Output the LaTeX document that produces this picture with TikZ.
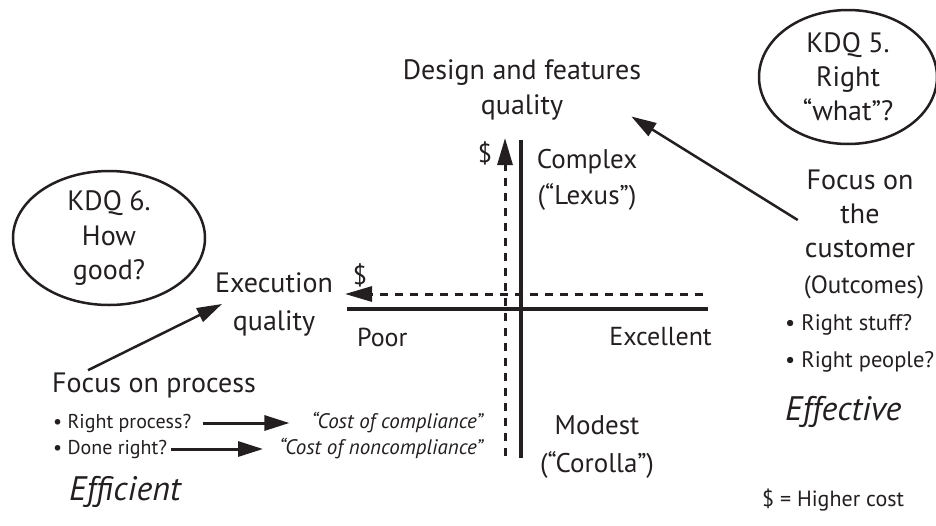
\documentclass[tikz,border=0pt]{standalone}
\usepackage{fontspec}
\setmainfont{PT Sans}
\usetikzlibrary{arrows.meta,positioning}
\definecolor{ink}{RGB}{35,31,32}

\begin{document}
\begin{tikzpicture}[x=1pt,y=-1pt,
  every node/.style={text=ink,inner sep=2pt},
  big/.style={font=\fontsize{28}{35}\selectfont,align=center},
  mid/.style={font=\fontsize{26}{37}\selectfont,align=center},
  bul/.style={font=\fontsize{20}{22}\selectfont},
  rbul/.style={font=\fontsize{22.5}{24}\selectfont},
  quote/.style={font=\fontsize{21}{24}\selectfont\itshape},
  verdict/.style={font=\fontsize{34}{38}\selectfont\itshape},
  axis/.style={draw=ink,line width=4.5pt},
  cost/.style={draw=ink,line width=3pt,dash pattern=on 8pt off 7pt,-{Triangle[length=27pt,width=15pt]}},
  conn/.style={draw=ink,line width=2.5pt,-{Triangle[length=25pt,width=15pt]}},
  bubble/.style={draw=ink,line width=2.5pt}]
\useasboundingbox (0,0) rectangle (936,525);

% the two quality axes
\coordinate (xl) at (347,309);
\coordinate (xr) at (708,309);
\coordinate (yt) at (521,140);
\coordinate (yb) at (521,458);
\coordinate (hs) at (703,294);
\coordinate (he) at (345,294);
\coordinate (vs) at (505,456);
\coordinate (ve) at (505,138);
\draw[cost] (hs) -- (he);
\draw[cost] (vs) -- (ve);
\draw[axis] (xl) -- (xr);
\draw[axis] (yt) -- (yb);

\node[big] (design) at (522,90) {Design and features\\quality};
\node[big,font=\fontsize{28}{38}\selectfont] (exec) at (274,304) {Execution\\quality};
\node[mid,font=\fontsize{27}{36}\selectfont] (complex) at (587,180) {Complex\\(“Lexus”)};
\node[mid,font=\fontsize{27}{38}\selectfont] (modest) at (597,447) {Modest\\(“Corolla”)};
\node[mid,anchor=west] (poor) at (355,337) {Poor};
\node[mid,anchor=east] (excel) at (714,337) {Excellent};
\node[mid] (dtop) at (485,153) {\$};
\node[mid] (dleft) at (360,275) {\$};

% key decision questions
\node[big,font=\fontsize{28}{34.5}\selectfont] (kdq6) at (109,238) {KDQ 6.\\How\\good?};
\draw[bubble] (kdq6) ellipse [x radius=96pt,y radius=67pt];
\node[big,font=\fontsize{28}{34}\selectfont] (kdq5) at (848,77) {KDQ 5.\\Right\\“what”?};
\draw[bubble] (kdq5) ellipse [x radius=89pt,y radius=67pt];

% process side
\node[big,anchor=west] (proc) at (50,385) {Focus on process};
\node[bul,anchor=west] (rproc) at (51,423) {• Right process?};
\node[bul,anchor=west] (done) at (51,449) {• Done right?};
\node[quote,anchor=east] (compl) at (485,423) {“Cost of compliance”};
\node[quote,anchor=east] (noncompl) at (485,449) {“Cost of noncompliance”};
\node[verdict,anchor=west] (effic) at (67,492) {Efficient};
\draw[conn] ([xshift=38pt]proc.north west) -- ([xshift=9pt]exec.west);
\draw[conn,line width=3pt,shorten <=10pt,shorten >=20pt] (rproc) -- (compl);
\draw[conn,line width=3pt,shorten <=2pt,shorten >=14pt] (done) -- (noncompl);

% customer side
\node[big,font=\fontsize{28}{34}\selectfont] (cust) at (860,214) {Focus on\\the\\customer};
\node[rbul,font=\fontsize{25}{26}\selectfont] (outc) at (864,287) {(Outcomes)};
\node[rbul,anchor=west] (rstuff) at (783,325) {• Right stuff?};
\node[rbul,anchor=west] (rpeople) at (783,362) {• Right people?};
\node[verdict,anchor=west] (effec) at (783,412) {Effective};
\node[rbul,font=\fontsize{22}{24}\selectfont,anchor=west] (legend) at (760,500) {\$ = Higher cost};
\draw[conn] ([xshift=-5pt,yshift=-6pt]cust.west) -- ([xshift=-12pt,yshift=6pt]design.south east);
\end{tikzpicture}
\end{document}
